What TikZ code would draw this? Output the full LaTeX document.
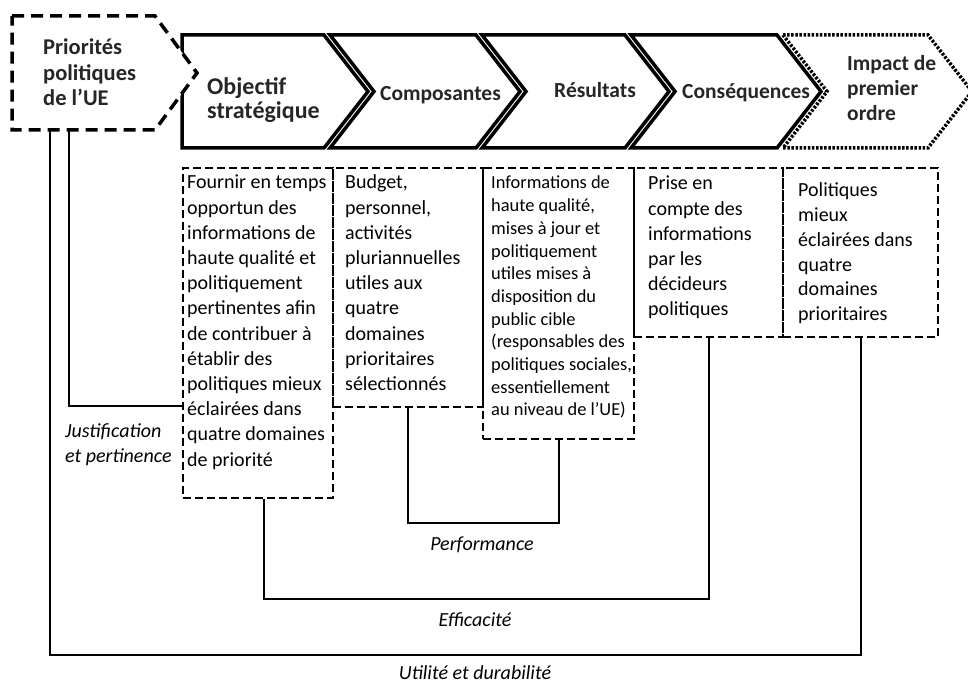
\documentclass[tikz,border=0pt]{standalone}
\usepackage{fontspec}
\setmainfont{Carlito}
\usepackage{tikz}
\usetikzlibrary{positioning,calc}

\begin{document}
\begin{tikzpicture}[x=1pt, y=-1pt,
        stage/.style={draw, line width=3.5pt, fill=white, line join=miter},
        impactstage/.style={stage, dash pattern=on 2.5pt off 1.6pt},
        priobox/.style={stage, dash pattern=on 12pt off 7pt},
        stagetitle/.style={anchor=base west, inner sep=0pt, align=flush left, text width=140pt, text=black!85, font=\bfseries\fontsize{21.5}{25}\selectfont}
    ]
    \useasboundingbox (0,0) rectangle (968,684);

    %styles
    \tikzstyle{infobox}=[draw, line width=2pt, dash pattern=on 8pt off 4pt, anchor=north west, inner sep=0pt]
    \tikzstyle{infotext}=[anchor=base west, inner sep=0pt, align=flush left, text width=165pt, font=\fontsize{20}{25.2}\selectfont]
    \tikzstyle{critlabel}=[inner sep=0pt, font=\itshape\fontsize{20}{25}\selectfont]
    \tikzstyle{link}=[line width=2pt]

    %chevrons
    \draw[stage] (182,35) -- (324,35) -- (368,91.5) -- (324,148) -- (182,148) -- cycle;
    \foreach \l/\r in {330/476, 482/625, 631/777} {
        \draw[stage] (\l,35) -- (\r,35) -- (\r+44,91.5) -- (\r,148) -- (\l,148) -- (\l+44,91.5) -- cycle;
    }
    \draw[impactstage] (783,35) -- (928,35) -- (972,91.5) -- (928,148) -- (783,148) -- (827,91.5) -- cycle;
    \draw[priobox] (12,16) -- (155,16) -- (197,73) -- (155,130) -- (12,130) -- cycle;

    %nodes
    \node[stagetitle, font=\bfseries\fontsize{22.5}{25.5}\selectfont] (prio) at (43,55) {Priorités\\politiques\\de l’UE};
    \node[stagetitle, font=\bfseries\fontsize{24}{24}\selectfont] (obj) at (207,95) {Objectif\\stratégique};
    \node[stagetitle] (comp) at (380,101) {Composantes};
    \node[stagetitle] (res) at (554,98) {Résultats};
    \node[stagetitle] (cons) at (682,99) {Conséquences};
    \node[stagetitle] (impact) at (847,71) {Impact de\\premier\\ordre};

    \node[infobox, minimum width=150pt, minimum height=330pt] (b1) at (182,167) {};
    \node[infobox, minimum width=150pt, minimum height=239pt] (b2) at (332,167) {};
    \node[infobox, minimum width=151pt, minimum height=271pt] (b3) at (482,167) {};
    \node[infobox, minimum width=149pt, minimum height=169pt] (b4) at (633,167) {};
    \node[infobox, minimum width=155pt, minimum height=169pt] (b5) at (782,167) {};

    \node[infotext] (t1) at (187,189) {Fournir en temps\\opportun des\\informations de\\haute qualité et\\politiquement\\pertinentes afin\\de contribuer à\\établir des\\politiques mieux\\éclairées dans\\quatre domaines\\de priorité};
    \node[infotext] (t2) at (345,189) {Budget,\\personnel,\\activités\\pluriannuelles\\utiles aux\\quatre\\domaines\\prioritaires\\sélectionnés};
    \node[infotext, font=\fontsize{18.4}{22.7}\selectfont] (t3) at (491,189) {Informations de\\haute qualité,\\mises à jour et\\politiquement\\utiles mises à\\disposition du\\public cible\\(responsables des\\politiques sociales,\\essentiellement\\au niveau de l’UE)};
    \node[infotext] (t4) at (648,190) {Prise en\\compte des\\informations\\par les\\décideurs\\politiques};
    \node[infotext, font=\fontsize{20}{24.7}\selectfont] (t5) at (798,197) {Politiques\\mieux\\éclairées dans\\quatre\\domaines\\prioritaires};

    \node[critlabel, align=flush left, anchor=west] (just) at (65,445) {Justification\\et pertinence};
    \node[critlabel] (perf) at (482,545) {Performance};
    \node[critlabel] (eff) at (475,620) {Efficacité};
    \node[critlabel] (util) at (475,673) {Utilité et durabilité};

    \coordinate (priojust) at (69,130);
    \coordinate (prioutil) at (50,130);
    \coordinate (justy) at (0,406);
    \coordinate (perfy) at (0,523);
    \coordinate (effy) at (0,599);
    \coordinate (utily) at (0,655);

    %arrows
    \draw[link] (priojust) -- (priojust |- justy) -- (b1.west |- justy);
    \draw[link] (b2.south) -- (b2.south |- perfy) -| (b3.south);
    \draw[link] ([xshift=6pt]b1.south) -- ([xshift=6pt]b1.south |- effy) -| (b4.south);
    \draw[link] (prioutil) -- (prioutil |- utily) -| (b5.south);

\end{tikzpicture}
\end{document}
